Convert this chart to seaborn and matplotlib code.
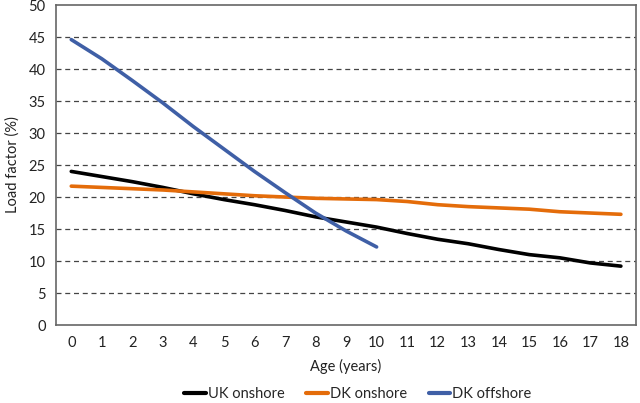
import numpy as np
import pandas as pd
import matplotlib
matplotlib.use("Agg")
import matplotlib.pyplot as plt
import seaborn as sns

ages = list(range(19))
uk_onshore = [24.0, 23.2, 22.4, 21.5, 20.5, 19.6, 18.8, 17.9, 16.9, 16.1, 15.3,
              14.3, 13.4, 12.7, 11.8, 11.0, 10.5, 9.7, 9.2]
dk_onshore = [21.7, 21.5, 21.3, 21.1, 20.8, 20.5, 20.2, 20.0, 19.8, 19.7, 19.6,
              19.3, 18.8, 18.5, 18.3, 18.1, 17.7, 17.5, 17.3]
dk_offshore = [44.6, 41.6, 38.2, 34.7, 31.0, 27.5, 24.0, 20.7, 17.5, 14.7, 12.2]
series_names = ["UK onshore", "DK onshore", "DK offshore"]
colors = ["#000000", "#E46C0A", "#3F5FA6"]

rows = []
for name, vals in zip(series_names, [uk_onshore, dk_onshore, dk_offshore]):
    for a, v in zip(ages, vals):
        rows.append({"Age": a, "Load": v, "Series": name})
df = pd.DataFrame(rows)

sns.set_style("white")
plt.rcParams['font.family'] = ['Lato', 'DejaVu Sans']

fig = plt.figure(figsize=(6.4, 4.03), dpi=100)
ax = fig.add_axes([0.0875, 0.1935, 0.9065, 0.794])

sns.lineplot(data=df, x="Age", y="Load", hue="Series", palette=colors,
             hue_order=series_names, linewidth=2.6, ax=ax, legend=True)

ax.set_xlim(-0.5, 18.5)
ax.set_ylim(0, 50)
ax.set_yticks(range(0, 51, 5))
ax.set_xticks(ages)
ax.set_xticks(np.arange(-0.5, 19, 1), minor=True)
ax.tick_params(axis="x", which="major", length=0, labelsize=10.5, pad=8, colors="#222222")
ax.tick_params(axis="x", which="minor", length=4, width=1, direction="out", color="#555555")
ax.tick_params(axis="y", length=4, width=1, direction="out", labelsize=10.5, colors="#222222")
ax.tick_params(axis="y", color="#555555")
for y in range(5, 50, 5):
    ax.axhline(y, color="#444444", linestyle=(0, (4, 3)), linewidth=0.9, zorder=0)
for s in ax.spines.values():
    s.set_color("#666666")
    s.set_linewidth(1.2)

ax.set_xlabel("Age (years)", fontsize=10.5, labelpad=6, color="#222222")
ax.set_ylabel("Load factor (%)", fontsize=10.5, labelpad=6, color="#222222")

handles, labels = ax.get_legend_handles_labels()
for h in handles:
    h.set_linewidth(3)
ax.legend(handles, labels, loc="center", bbox_to_anchor=(0.52, -0.215),
          ncol=3, frameon=False, fontsize=10.5, handlelength=1.5, handletextpad=0.1,
          columnspacing=1.5)

fig.savefig("out.png", dpi=100)
